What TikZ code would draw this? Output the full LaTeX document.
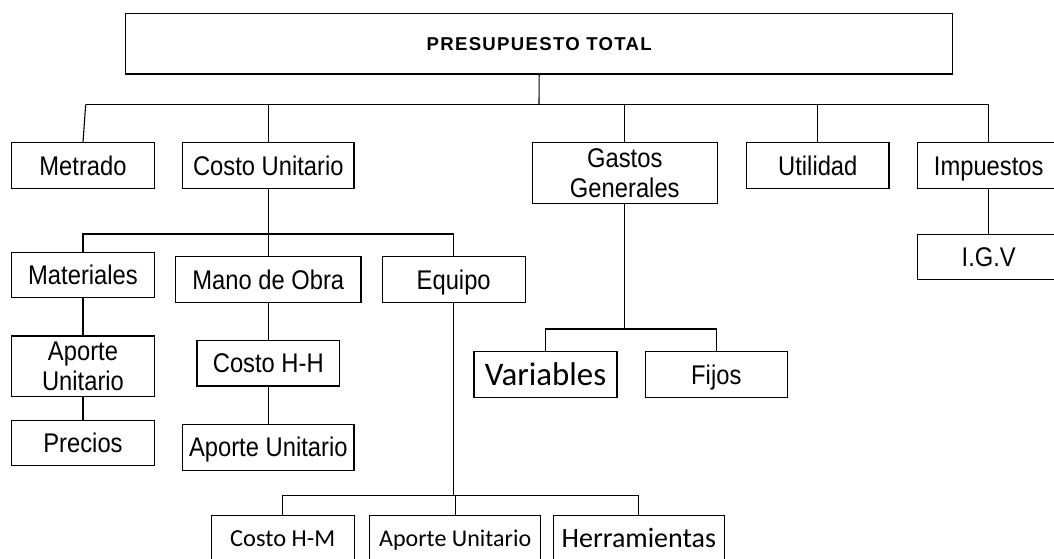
\documentclass[tikz,border=0pt]{standalone}
\usepackage{fontspec}
\setmainfont[FakeStretch=0.88]{Liberation Sans}
\newfontfamily\calibri{Carlito}
\newfontfamily\titulo[LetterSpace=7]{Liberation Sans}

\tikzset{
  caja/.style={draw, inner sep=0pt, text depth=0pt},
  arial/.style={caja, font=\fontsize{27}{30}\selectfont, text height=19.3pt},
  arialdos/.style={draw, inner sep=0pt, align=center, font=\fontsize{27}{30}\selectfont},
  calib/.style={caja, font=\calibri\fontsize{#1}{#1}\selectfont, text height={0.644*#1pt}},
}

\begin{document}
\begin{tikzpicture}[x=1pt, y=-1pt, line width=1.1pt]
    \useasboundingbox (0,0) rectangle (1054,559);
    \clip (0,0) rectangle (1054,559);

    \node [caja, minimum width=827pt, minimum height=60.7pt, font=\titulo\bfseries\fontsize{18.6}{18.6}\selectfont, text height=13.3pt] (total) at (539.2,43.7) {PRESUPUESTO TOTAL};

    \node [arial, minimum width=142.6pt, minimum height=45.6pt] (metr) at (83,165.5) {Metrado};
    \node [arial, minimum width=171.3pt, minimum height=45.6pt] (cu) at (268.3,165.5) {Costo Unitario};
    \node [arialdos, minimum width=185pt, minimum height=60.6pt] (gg) at (624.8,173) {Gastos\\Generales};
    \node [arial, minimum width=142.3pt, minimum height=45.6pt] (util) at (817.8,165.5) {Utilidad};
    \node [arial, minimum width=142pt, minimum height=45.6pt] (imp) at (988.7,165.5) {Impuestos};
    \node [arial, minimum width=142pt, minimum height=45.3pt] (igv) at (988.7,256.7) {I.G.V};

    \coordinate (b1) at (539,104.3);
    \coordinate (b1i) at (85.7,104.3);
    \draw (total.south) -- (b1);
    \draw (b1i) -- (metr.north);
    \draw (b1i) -| (imp.north);
    \foreach \n in {cu,gg,util}
      \draw (b1 -| \n.north) -- (\n.north);
    \draw (imp) -- (igv);

    \node [arial, minimum width=142.6pt, minimum height=45.4pt] (mat) at (83,275) {Materiales};
    \node [arial, minimum width=185.3pt, minimum height=45.6pt] (mo) at (268.3,279.5) {Mano de Obra};
    \node [arial, minimum width=142.8pt, minimum height=45.6pt] (equ) at (453.7,279.5) {Equipo};

    \coordinate (b2) at (268.3,234);
    \draw (cu.south) -- (b2) -- (mo.north);
    \draw (mat.north) |- (b2) -| (equ.north);

    \node [arialdos, minimum width=142.6pt, minimum height=60.7pt] (aum) at (83,366.3) {Aporte\\Unitario};
    \node [arial, minimum width=142.6pt, minimum height=45.3pt] (prec) at (83,442.7) {Precios};
    \draw (mat) -- (aum) -- (prec);

    \node [arial, minimum width=142.7pt, minimum height=45.3pt] (chh) at (268.3,363.3) {Costo H-H};
    \node [arial, minimum width=171.3pt, minimum height=45.7pt] (aumo) at (268.3,447.2) {Aporte Unitario};
    \draw (mo) -- (chh) -- (aumo);

    \node [calib=32.9, minimum width=143pt, minimum height=46pt] (var) at (545.5,374.7) {Variables};
    \node [arial, minimum width=142pt, minimum height=46pt] (fij) at (716.3,374.7) {Fijos};
    \coordinate (b4) at (624.8,329);
    \draw (gg.south) -- (b4);
    \draw (var.north) |- (b4) -| (fij.north);

    \node [calib=24.4, minimum width=142.7pt, minimum height=45.6pt] (chm) at (282.7,538.5) {Costo H-M};
    \node [calib=24, minimum width=171pt, minimum height=45.6pt] (aueq) at (455.2,538.5) {Aporte Unitario};
    \node [calib=28, minimum width=171pt, minimum height=45.6pt] (herr) at (638.8,538.5) {Herramientas};
    \coordinate (b3) at (453.7,495.7);
    \draw (equ.south) -- (b3);
    \draw (chm.north) |- (b3) -| (herr.north);
    \draw (b3 -| aueq.north) -- (aueq.north);
  \end{tikzpicture}
\end{document}
